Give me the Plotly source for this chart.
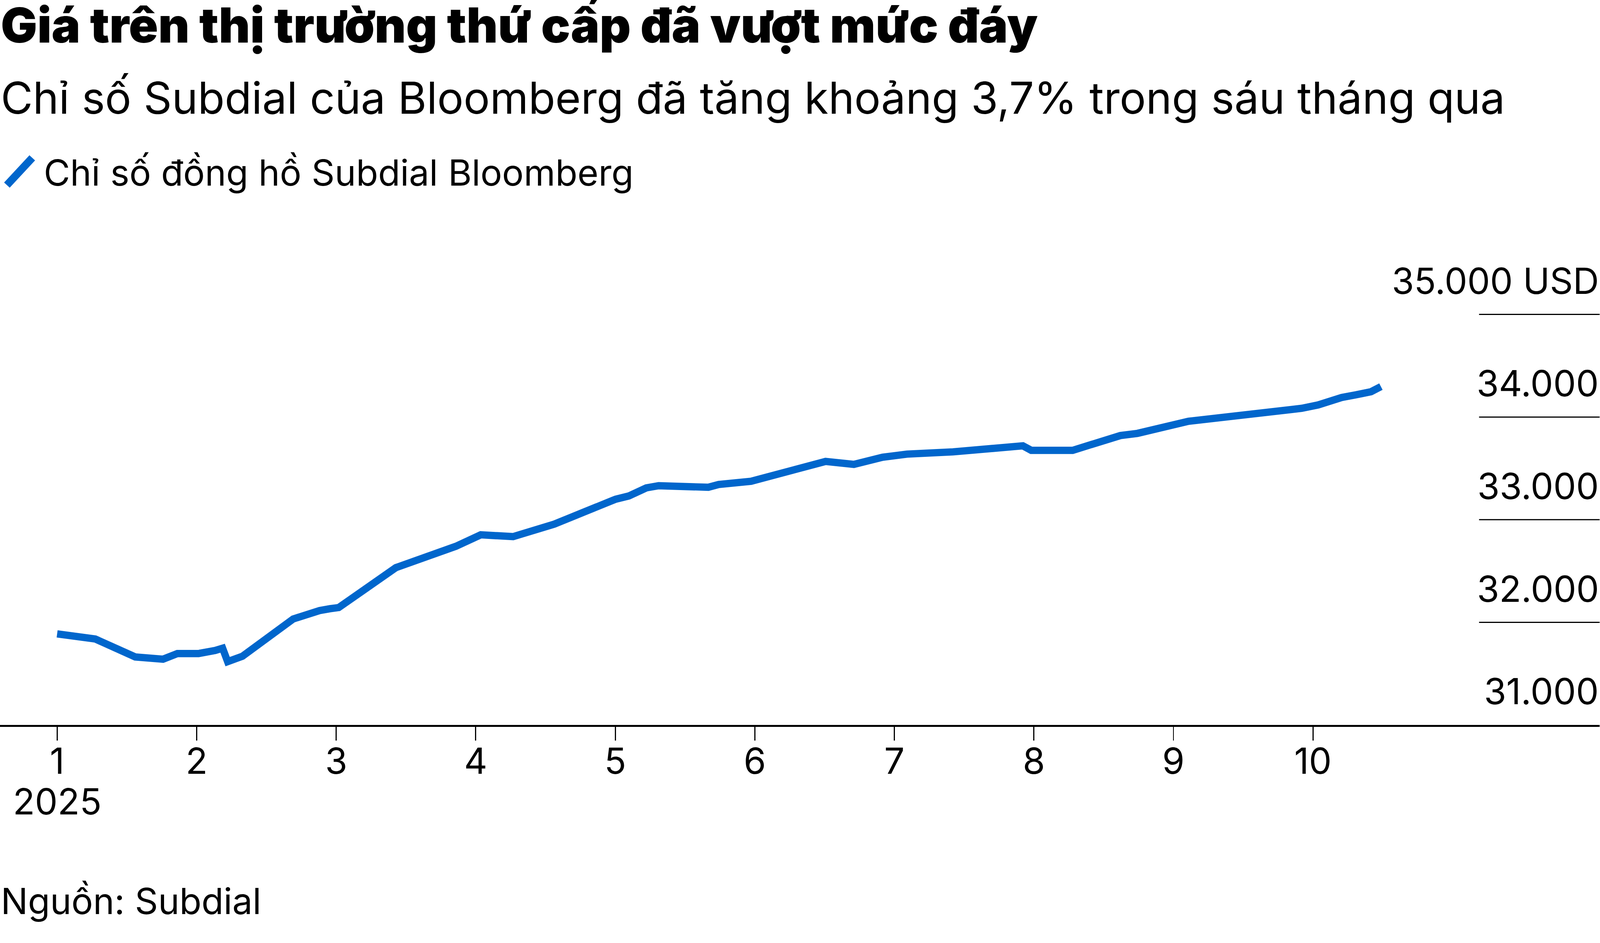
import plotly.graph_objects as go

# ---- data (x = month position, 1 = start of Jan 2025) ----
month_pos = [1.000, 1.273, 1.560, 1.759, 1.862, 2.013, 2.133, 2.186, 2.222, 2.328,
             2.692, 2.789, 2.881, 2.957, 3.018, 3.428, 3.639, 3.858, 4.036, 4.268,
             4.563, 5.003, 5.097, 5.222, 5.311, 5.481, 5.527, 5.667, 5.741, 5.973,
             6.507, 6.710, 6.916, 7.091, 7.420, 7.921, 7.981, 8.278, 8.620, 8.742,
             9.108, 9.592, 9.705, 9.919, 10.037, 10.206, 10.310, 10.416, 10.487]
index_usd = [31888, 31838, 31663, 31641, 31696, 31696, 31726, 31748, 31617, 31670,
             32033, 32077, 32115, 32133, 32144, 32533, 32639, 32741, 32853, 32835,
             32957, 33200, 33231, 33310, 33331, 33328, 33316, 33316, 33343, 33374,
             33568, 33539, 33609, 33639, 33661, 33720, 33676, 33676, 33820, 33841,
             33959, 34027, 34056, 34085, 34118, 34191, 34217, 34247, 34297]

x_tick_vals = [1, 2, 3, 4, 5, 6, 7, 8, 9, 10]
x_tick_text = ["1", "2", "3", "4", "5", "6", "7", "8", "9", "10"]
year_label = "2025"
y_tick_vals = [31000, 32000, 33000, 34000, 35000]
y_tick_text = ["31.000", "32.000", "33.000", "34.000", "35.000 USD"]

title = "Giá trên thị trường thứ cấp đã vượt mức đáy"
subtitle = "Chỉ số Subdial của Bloomberg đã tăng khoảng 3,7% trong sáu tháng qua"
legend_name = "Chỉ số đồng hồ Subdial Bloomberg"
source = "Nguồn: Subdial"

# ---- layout geometry (reference pixel space 4167x2413) ----
W, H = 4167, 2413
S = 4095 / 4167          # the viewer shows ~4095 css px over the 4167 px picture
BLUE = "#0066CC"
FONT = "Inter"
plot_top_px, plot_bot_px = 700, 1888
ydom = [(H - plot_bot_px) / H, (H - plot_top_px) / H]
px_per_month = 363.5
x_left = 1 - 148.8 / px_per_month
x_right = x_left + W / px_per_month
px_per_unit = 267.3 / 1000
y_top = 31000 + (plot_bot_px - plot_top_px) / px_per_unit

def py(ypx):
    return (H - ypx) / H

def s(v):
    return v * S

fig = go.Figure()
fig.add_trace(go.Scatter(
    x=month_pos, y=index_usd, mode="lines", name=legend_name,
    line=dict(color=BLUE, width=s(19)), hoverinfo="skip", showlegend=False,
))

annotations = [
    dict(text=title, x=0, y=py(65), xref="paper", yref="paper", xanchor="left",
         yanchor="middle", showarrow=False,
         font=dict(family=FONT, size=s(126), color="black", weight=900)),
    dict(text=subtitle, x=0, y=py(254), xref="paper", yref="paper", xanchor="left",
         yanchor="middle", showarrow=False,
         font=dict(family=FONT, size=s(114.4), color="black")),
    dict(text=legend_name, x=112 / W, y=py(449), xref="paper", yref="paper",
         xanchor="left", yanchor="middle", showarrow=False,
         font=dict(family=FONT, size=s(94), color="black")),
    dict(text=source, x=0, y=py(2346), xref="paper", yref="paper", xanchor="left",
         yanchor="middle", showarrow=False,
         font=dict(family=FONT, size=s(94), color="black")),
    dict(text=year_label, x=x_tick_vals[0], y=py(2087), xref="x", yref="paper",
         xanchor="center", yanchor="middle", showarrow=False,
         font=dict(family=FONT, size=s(94), color="black")),
]
for v, t in zip(y_tick_vals, y_tick_text):
    annotations.append(dict(text=t, x=1, y=v, xref="paper", yref="y", xanchor="right",
                            yanchor="middle", yshift=s(88), showarrow=False,
                            font=dict(family=FONT, size=s(94), color="black")))

shapes = []
for v in y_tick_vals[1:]:
    shapes.append(dict(type="line", xref="paper", yref="y", x0=3853 / W, x1=1,
                       y0=v, y1=v, line=dict(color="black", width=s(3))))
# legend key
shapes.append(dict(type="line", xref="paper", yref="paper", x0=18 / W, y0=py(482),
                   x1=84 / W, y1=py(411), line=dict(color=BLUE, width=s(20))))

fig.update_layout(
    width=round(W * S), height=round(H * S), margin=dict(l=0, r=0, t=0, b=0),
    paper_bgcolor="white", plot_bgcolor="white",
    annotations=annotations, shapes=shapes, showlegend=False,
    xaxis=dict(range=[x_left, x_right], tickvals=x_tick_vals, ticktext=x_tick_text,
               showgrid=False, zeroline=False, showline=True, linecolor="black",
               linewidth=s(4.5), ticks="outside", ticklen=s(36), tickwidth=s(3),
               tickcolor="black", ticklabelstandoff=round(s(-26)),
               tickfont=dict(family=FONT, size=s(94), color="black"),
               fixedrange=True),
    yaxis=dict(domain=ydom, range=[31000, y_top], showgrid=False, zeroline=False,
               showticklabels=False, showline=False, fixedrange=True),
)

fig.write_html(
    "out.html",
    config={"displayModeBar": False, "staticPlot": True},
    post_script="document.body.style.margin='0';document.body.style.overflow='hidden';",
)
